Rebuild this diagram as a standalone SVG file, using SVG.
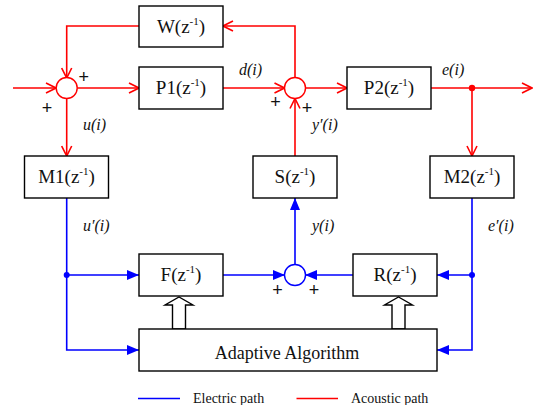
<svg xmlns="http://www.w3.org/2000/svg" width="533" height="405" viewBox="0 0 533 405">
<defs>
<style>
.box{fill:#fff;stroke:#000;stroke-width:1.4}
.lbl{font-family:"Liberation Serif","Times New Roman",serif;font-size:19px;fill:#111;text-anchor:middle}
.big{font-size:18px}
.sup{font-size:11px}
.sig{font-family:"Liberation Serif","Times New Roman",serif;font-size:16px;font-style:italic;fill:#111}
.pm{font-family:"Liberation Sans",Arial,sans-serif;font-size:18px;fill:#111;text-anchor:middle}
.leg{font-family:"Liberation Serif","Times New Roman",serif;font-size:14px;fill:#111}
.r{fill:none;stroke:#f00;stroke-width:1.6}
.b{fill:none;stroke:#00f;stroke-width:1.6}
.hollow{fill:#fff;stroke:#000;stroke-width:1.4}
</style>
<marker id="ra" viewBox="0 0 12 12" refX="11" refY="6" markerWidth="12" markerHeight="12" markerUnits="userSpaceOnUse" orient="auto">
<path d="M1,1 L11,6 L1,11" fill="none" stroke="#f00" stroke-width="1.6"/>
</marker>
<marker id="ba" viewBox="0 0 12 10" refX="12" refY="5" markerWidth="12" markerHeight="10" markerUnits="userSpaceOnUse" orient="auto">
<path d="M0,0 L12,5 L0,10 Z" fill="#00f"/>
</marker>
</defs>

<g id="connectors">
<path class="r" d="M13,88 H56" marker-end="url(#ra)"/>
<path class="r" d="M295,77.5 V26 H223" marker-end="url(#ra)"/>
<path class="r" d="M139,26 H66.7 V78" marker-end="url(#ra)"/>
<path class="r" d="M77.2,88 H139" marker-end="url(#ra)"/>
<path class="r" d="M66.7,98.5 V156" marker-end="url(#ra)"/>
<path class="r" d="M223,88 H284.5" marker-end="url(#ra)"/>
<path class="r" d="M295,156 V98.5" marker-end="url(#ra)"/>
<path class="r" d="M305.5,88 H347" marker-end="url(#ra)"/>
<path class="r" d="M431,88 H532" marker-end="url(#ra)"/>
<path class="r" d="M472,88 V156" marker-end="url(#ra)"/>
<circle cx="472" cy="88" r="3.2" fill="#f00"/>

<path class="b" d="M66.7,198 V350 H139" marker-end="url(#ba)"/>
<path class="b" d="M66.7,275 H139" marker-end="url(#ba)"/>
<circle cx="66.7" cy="275" r="3" fill="#00f"/>
<path class="b" d="M223,275 H285" marker-end="url(#ba)"/>
<path class="b" d="M353,275 H305" marker-end="url(#ba)"/>
<path class="b" d="M295,265 V198" marker-end="url(#ba)"/>
<path class="b" d="M472,198 V350 H437" marker-end="url(#ba)"/>
<path class="b" d="M472,275 H437" marker-end="url(#ba)"/>
<circle cx="472" cy="275" r="3" fill="#00f"/>

<polygon class="hollow" points="172.5,329 172.5,305 165,305 179,297 193,305 185.5,305 185.5,329"/>
<polygon class="hollow" points="392,329 392,305 384.5,305 398.5,297 412.5,305 405,305 405,329"/>
</g>

<g id="sum1"><circle cx="66.7" cy="88" r="10.5" fill="#fff" stroke="#f00" stroke-width="1.4"/></g>
<g id="sum2"><circle cx="295" cy="88" r="10.5" fill="#fff" stroke="#f00" stroke-width="1.4"/></g>
<g id="sum3"><circle cx="295" cy="275" r="10.5" fill="#fff" stroke="#00f" stroke-width="1.4"/></g>

<g id="W"><rect class="box" x="139" y="6" width="84" height="41"/>
<text class="lbl" x="181" y="33">W(z<tspan class="sup" dy="-8">-1</tspan><tspan dy="8">)</tspan></text></g>
<g id="P1"><rect class="box" x="139" y="67" width="84" height="42"/>
<text class="lbl" x="181" y="94">P1(z<tspan class="sup" dy="-8">-1</tspan><tspan dy="8">)</tspan></text></g>
<g id="P2"><rect class="box" x="347" y="67" width="84" height="42"/>
<text class="lbl" x="389" y="94">P2(z<tspan class="sup" dy="-8">-1</tspan><tspan dy="8">)</tspan></text></g>
<g id="M1"><rect class="box" x="24.5" y="156" width="84" height="42"/>
<text class="lbl" x="66.5" y="183">M1(z<tspan class="sup" dy="-8">-1</tspan><tspan dy="8">)</tspan></text></g>
<g id="S"><rect class="box" x="253" y="156" width="84" height="42"/>
<text class="lbl" x="295" y="183">S(z<tspan class="sup" dy="-8">-1</tspan><tspan dy="8">)</tspan></text></g>
<g id="M2"><rect class="box" x="430" y="156" width="84" height="42"/>
<text class="lbl" x="472" y="183">M2(z<tspan class="sup" dy="-8">-1</tspan><tspan dy="8">)</tspan></text></g>
<g id="F"><rect class="box" x="139" y="254" width="84" height="42"/>
<text class="lbl" x="181" y="281">F(z<tspan class="sup" dy="-8">-1</tspan><tspan dy="8">)</tspan></text></g>
<g id="R"><rect class="box" x="353" y="254" width="84" height="42"/>
<text class="lbl" x="395" y="281">R(z<tspan class="sup" dy="-8">-1</tspan><tspan dy="8">)</tspan></text></g>
<g id="adaptive"><rect class="box" x="139" y="329" width="298" height="42"/>
<text class="lbl big" x="287" y="359">Adaptive Algorithm</text></g>

<g id="labels">
<text class="pm" x="83.7" y="83">+</text>
<text class="pm" x="47" y="113.5">+</text>
<text class="pm" x="275.5" y="107.5">+</text>
<text class="pm" x="307" y="113.5">+</text>
<text class="pm" x="277.5" y="295.5">+</text>
<text class="pm" x="314" y="295.5">+</text>
<text class="sig" x="83" y="130">u(i)</text>
<text class="sig" x="239" y="75">d(i)</text>
<text class="sig" x="442" y="75">e(i)</text>
<text class="sig" x="312" y="130">y′(i)</text>
<text class="sig" x="83" y="231">u′(i)</text>
<text class="sig" x="312" y="231">y(i)</text>
<text class="sig" x="488" y="231">e′(i)</text>
</g>

<g id="legend">
<line x1="138" y1="398.5" x2="180" y2="398.5" stroke="#00f" stroke-width="1.6"/>
<text class="leg" x="193" y="403">Electric path</text>
<line x1="296.5" y1="398.5" x2="338" y2="398.5" stroke="#f00" stroke-width="1.6"/>
<text class="leg" x="351" y="403">Acoustic path</text>
</g>
</svg>
